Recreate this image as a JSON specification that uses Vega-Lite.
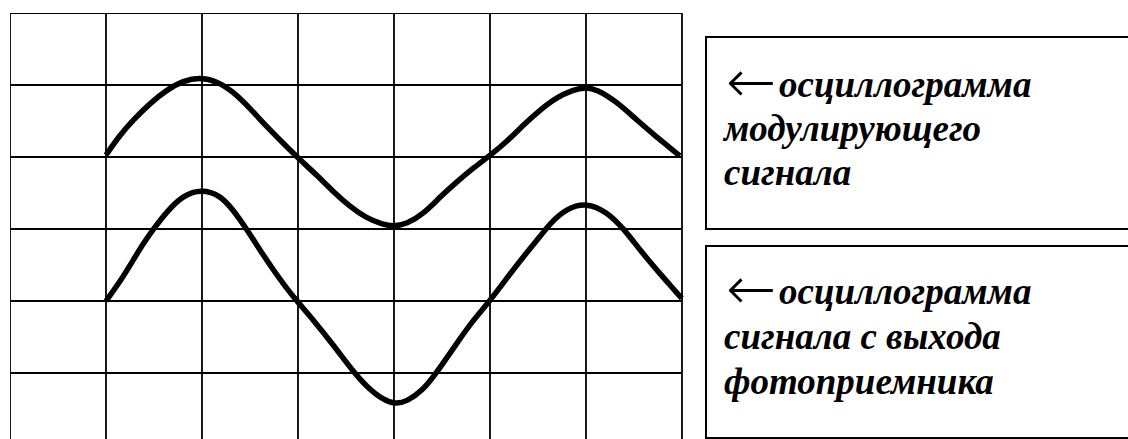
{
  "$schema": "https://vega.github.io/schema/vega-lite/v6.json",
  "width": 1118,
  "height": 426,
  "autosize": {"type": "none"},
  "padding": {"left": 10, "top": 13, "right": 0, "bottom": 0},
  "background": "white",
  "config": {"view": {"stroke": null}},
  "datasets": {
    "cols": [{"x": 0}, {"x": 1}, {"x": 2}, {"x": 3}, {"x": 4}, {"x": 5}, {"x": 6}, {"x": 7}],
    "rows": [{"y": 0}, {"y": 1}, {"y": 2}, {"y": 3}, {"y": 4}, {"y": 5}],
    "traces": [
      {"signal": "modulating", "t": 1.000, "v": 1.972},
      {"signal": "modulating", "t": 1.146, "v": 1.694},
      {"signal": "modulating", "t": 1.284, "v": 1.486},
      {"signal": "modulating", "t": 1.458, "v": 1.254},
      {"signal": "modulating", "t": 1.632, "v": 1.069},
      {"signal": "modulating", "t": 1.805, "v": 0.940},
      {"signal": "modulating", "t": 1.979, "v": 0.895},
      {"signal": "modulating", "t": 2.153, "v": 0.944},
      {"signal": "modulating", "t": 2.326, "v": 1.093},
      {"signal": "modulating", "t": 2.500, "v": 1.324},
      {"signal": "modulating", "t": 2.674, "v": 1.579},
      {"signal": "modulating", "t": 2.847, "v": 1.810},
      {"signal": "modulating", "t": 2.986, "v": 1.996},
      {"signal": "modulating", "t": 3.195, "v": 2.250},
      {"signal": "modulating", "t": 3.368, "v": 2.482},
      {"signal": "modulating", "t": 3.542, "v": 2.690},
      {"signal": "modulating", "t": 3.715, "v": 2.851},
      {"signal": "modulating", "t": 3.888, "v": 2.938},
      {"signal": "modulating", "t": 3.993, "v": 2.965},
      {"signal": "modulating", "t": 4.132, "v": 2.931},
      {"signal": "modulating", "t": 4.305, "v": 2.792},
      {"signal": "modulating", "t": 4.479, "v": 2.556},
      {"signal": "modulating", "t": 4.653, "v": 2.347},
      {"signal": "modulating", "t": 4.826, "v": 2.153},
      {"signal": "modulating", "t": 4.982, "v": 1.996},
      {"signal": "modulating", "t": 5.174, "v": 1.788},
      {"signal": "modulating", "t": 5.347, "v": 1.556},
      {"signal": "modulating", "t": 5.521, "v": 1.347},
      {"signal": "modulating", "t": 5.695, "v": 1.171},
      {"signal": "modulating", "t": 5.868, "v": 1.069},
      {"signal": "modulating", "t": 5.990, "v": 1.028},
      {"signal": "modulating", "t": 6.111, "v": 1.060},
      {"signal": "modulating", "t": 6.320, "v": 1.232},
      {"signal": "modulating", "t": 6.528, "v": 1.486},
      {"signal": "modulating", "t": 6.736, "v": 1.722},
      {"signal": "modulating", "t": 6.979, "v": 1.986},
      {"signal": "photodetector", "t": 1.000, "v": 4.000},
      {"signal": "photodetector", "t": 1.146, "v": 3.732},
      {"signal": "photodetector", "t": 1.284, "v": 3.431},
      {"signal": "photodetector", "t": 1.389, "v": 3.199},
      {"signal": "photodetector", "t": 1.493, "v": 3.004},
      {"signal": "photodetector", "t": 1.632, "v": 2.760},
      {"signal": "photodetector", "t": 1.805, "v": 2.528},
      {"signal": "photodetector", "t": 1.997, "v": 2.450},
      {"signal": "photodetector", "t": 2.188, "v": 2.528},
      {"signal": "photodetector", "t": 2.326, "v": 2.736},
      {"signal": "photodetector", "t": 2.466, "v": 3.004},
      {"signal": "photodetector", "t": 2.604, "v": 3.292},
      {"signal": "photodetector", "t": 2.743, "v": 3.569},
      {"signal": "photodetector", "t": 2.882, "v": 3.824},
      {"signal": "photodetector", "t": 2.986, "v": 3.996},
      {"signal": "photodetector", "t": 3.160, "v": 4.264},
      {"signal": "photodetector", "t": 3.368, "v": 4.611},
      {"signal": "photodetector", "t": 3.576, "v": 4.982},
      {"signal": "photodetector", "t": 3.715, "v": 5.190},
      {"signal": "photodetector", "t": 3.888, "v": 5.375},
      {"signal": "photodetector", "t": 4.010, "v": 5.430},
      {"signal": "photodetector", "t": 4.132, "v": 5.399},
      {"signal": "photodetector", "t": 4.305, "v": 5.236},
      {"signal": "photodetector", "t": 4.444, "v": 4.996},
      {"signal": "photodetector", "t": 4.653, "v": 4.588},
      {"signal": "photodetector", "t": 4.826, "v": 4.264},
      {"signal": "photodetector", "t": 5.000, "v": 3.996},
      {"signal": "photodetector", "t": 5.174, "v": 3.685},
      {"signal": "photodetector", "t": 5.347, "v": 3.385},
      {"signal": "photodetector", "t": 5.521, "v": 3.107},
      {"signal": "photodetector", "t": 5.625, "v": 2.921},
      {"signal": "photodetector", "t": 5.799, "v": 2.713},
      {"signal": "photodetector", "t": 6.007, "v": 2.635},
      {"signal": "photodetector", "t": 6.215, "v": 2.760},
      {"signal": "photodetector", "t": 6.389, "v": 2.990},
      {"signal": "photodetector", "t": 6.563, "v": 3.292},
      {"signal": "photodetector", "t": 6.736, "v": 3.569},
      {"signal": "photodetector", "t": 6.875, "v": 3.778},
      {"signal": "photodetector", "t": 6.997, "v": 3.963}
    ],
    "boxes": [
      {"box": 1, "left": 7.25, "right": 12, "top": 0.333, "bottom": 3.0},
      {"box": 2, "left": 7.25, "right": 12, "top": 3.236, "bottom": 5.903}
    ],
    "captions": [
      {"box": 1, "line": 1, "arrow": true, "text": "осциллограмма", "t": 7.4375, "v": 1.167},
      {"box": 1, "line": 2, "arrow": false, "text": "модулирующего", "t": 7.4375, "v": 1.778},
      {"box": 1, "line": 3, "arrow": false, "text": "сигнала", "t": 7.4375, "v": 2.389},
      {"box": 2, "line": 1, "arrow": true, "text": "осциллограмма", "t": 7.4375, "v": 4.042},
      {"box": 2, "line": 2, "arrow": false, "text": "сигнала с выхода", "t": 7.4375, "v": 4.667},
      {"box": 2, "line": 3, "arrow": false, "text": "фотоприемника", "t": 7.4375, "v": 5.292}
    ]
  },
  "layer": [
    {
      "data": {"name": "cols"},
      "mark": {"type": "rule", "color": "black", "strokeWidth": 1.8, "clip": true},
      "encoding": {
        "x": {"field": "x", "type": "quantitative", "scale": {"domain": [0, 11.6458], "nice": false, "zero": false}, "axis": null},
        "y": {"datum": 0, "type": "quantitative", "scale": {"domain": [0, 5.9167], "nice": false, "zero": false, "reverse": true}, "axis": null},
        "y2": {"datum": 6}
      }
    },
    {
      "data": {"name": "rows"},
      "mark": {"type": "rule", "color": "black", "strokeWidth": 1.8, "clip": true},
      "encoding": {
        "y": {"field": "y", "type": "quantitative"},
        "x": {"datum": 0, "type": "quantitative"},
        "x2": {"datum": 7}
      }
    },
    {
      "data": {"name": "traces"},
      "mark": {"type": "line", "color": "black", "strokeWidth": 5.5, "interpolate": "basis", "strokeCap": "butt", "strokeJoin": "round"},
      "encoding": {
        "x": {"field": "t", "type": "quantitative"},
        "y": {"field": "v", "type": "quantitative"},
        "detail": {"field": "signal"},
        "order": {"field": "t"}
      }
    },
    {
      "data": {"name": "boxes"},
      "mark": {"type": "rect", "fill": null, "stroke": "black", "strokeWidth": 2, "clip": true},
      "encoding": {
        "x": {"field": "left", "type": "quantitative"},
        "x2": {"field": "right"},
        "y": {"field": "top", "type": "quantitative"},
        "y2": {"field": "bottom"}
      }
    },
    {
      "data": {"name": "captions"},
      "transform": [{"filter": "datum.arrow"}],
      "mark": {"type": "text", "font": "DejaVu Sans", "fontSize": 60, "fontWeight": 200, "align": "left", "baseline": "alphabetic", "color": "black", "dx": 2, "dy": 5},
      "encoding": {
        "x": {"field": "t", "type": "quantitative"},
        "y": {"field": "v", "type": "quantitative"},
        "text": {"value": "←"}
      }
    },
    {
      "data": {"name": "captions"},
      "transform": [{"filter": "datum.arrow"}],
      "mark": {"type": "text", "font": "Liberation Serif", "fontSize": 37, "fontWeight": "bold", "fontStyle": "italic", "align": "left", "baseline": "alphabetic", "color": "black", "dx": 55},
      "encoding": {
        "x": {"field": "t", "type": "quantitative"},
        "y": {"field": "v", "type": "quantitative"},
        "text": {"field": "text"}
      }
    },
    {
      "data": {"name": "captions"},
      "transform": [{"filter": "!datum.arrow"}],
      "mark": {"type": "text", "font": "Liberation Serif", "fontSize": 37, "fontWeight": "bold", "fontStyle": "italic", "align": "left", "baseline": "alphabetic", "color": "black"},
      "encoding": {
        "x": {"field": "t", "type": "quantitative"},
        "y": {"field": "v", "type": "quantitative"},
        "text": {"field": "text"}
      }
    }
  ]
}
